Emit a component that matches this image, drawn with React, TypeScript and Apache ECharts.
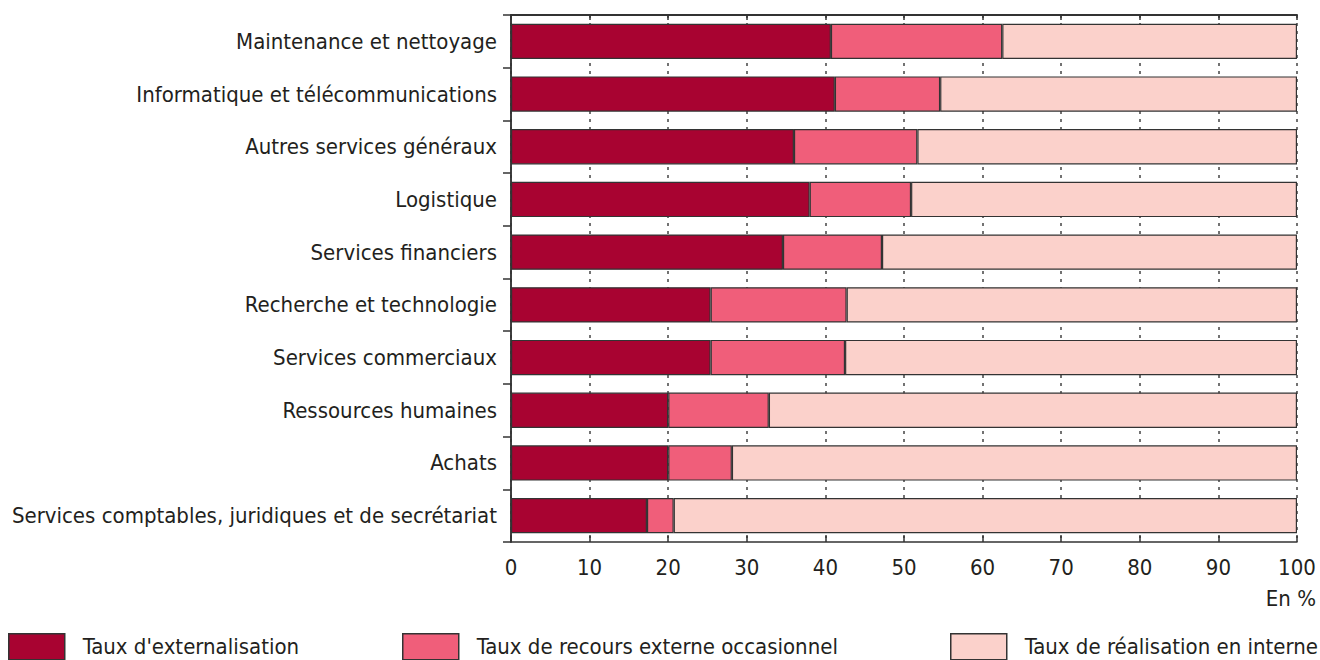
import React, { useEffect, useRef } from "react";
import * as echarts from "echarts";

const categories = [
  "Maintenance et nettoyage",
  "Informatique et télécommunications",
  "Autres services généraux",
  "Logistique",
  "Services financiers",
  "Recherche et technologie",
  "Services commerciaux",
  "Ressources humaines",
  "Achats",
  "Services comptables, juridiques et de secrétariat",
];
const externalisation = [40.7, 41.2, 36.0, 38.0, 34.6, 25.4, 25.4, 20.0, 20.0, 17.3];
const recoursOccasionnel = [21.8, 13.4, 15.7, 12.9, 12.6, 17.3, 17.1, 12.8, 8.1, 3.4];
const realisationInterne = [37.5, 45.4, 48.3, 49.1, 52.8, 57.3, 57.5, 67.2, 71.9, 79.3];
const seriesNames = [
  "Taux d'externalisation",
  "Taux de recours externe occasionnel",
  "Taux de réalisation en interne",
];
const xTicks = [0, 10, 20, 30, 40, 50, 60, 70, 80, 90, 100];

const FONT = "'Liberation Sans Narrow', 'Arial Narrow', 'DejaVu Sans Condensed', sans-serif";
const FS = 22;
const TEXT = "#231f20";
const colors = ["#a80331", "#f05e7a", "#fbd1cb"];

export default function App() {
  const ref = useRef<HTMLDivElement>(null);
  useEffect(() => {
    document.body.style.margin = "0";
    if (!ref.current) return;
    const chart = echarts.init(ref.current, undefined, { renderer: "svg" });
    const seriesData = [externalisation, recoursOccasionnel, realisationInterne];
    const legendLefts = [8, 402, 950];
    chart.setOption({
      animation: false,
      textStyle: { fontFamily: FONT, color: TEXT },
      grid: { left: 511, right: 23, top: 15, bottom: 118, show: false, containLabel: false, outerBoundsMode: "none" },
      xAxis: [
        {
          type: "value",
          min: xTicks[0],
          max: xTicks[xTicks.length - 1],
          interval: 10,
          position: "bottom",
          axisLine: { show: true, lineStyle: { color: "#333", width: 1.5 } },
          axisTick: { show: true, inside: true, length: 6, lineStyle: { color: "#333", width: 1.5 } },
          axisLabel: { fontFamily: FONT, fontSize: FS, color: TEXT, margin: 14 },
          splitLine: { show: true, lineStyle: { color: "#444", width: 1.5, type: [3, 5] } },
        },
        {
          type: "value",
          min: xTicks[0],
          max: xTicks[xTicks.length - 1],
          interval: 10,
          position: "top",
          axisLine: { show: true, lineStyle: { color: "#333", width: 2 } },
          axisTick: { show: true, inside: true, length: 5, lineStyle: { color: "#333", width: 1.5 } },
          axisLabel: { show: false },
          splitLine: { show: false },
        },
      ],
      yAxis: [
        {
          type: "category",
          data: categories,
          inverse: true,
          axisLine: { show: true, lineStyle: { color: "#333", width: 1.5 } },
          axisTick: { show: true, length: 8, lineStyle: { color: "#333", width: 1.5 } },
          axisLabel: { fontFamily: FONT, fontSize: FS, color: TEXT, margin: 14 },
        },
        {
          type: "category",
          data: categories,
          inverse: true,
          position: "right",
          axisLine: { show: true, lineStyle: { color: "#333", width: 1.5 } },
          axisTick: { show: false },
          axisLabel: { show: false },
        },
      ],
      legend: seriesNames.map((name, i) => ({
        data: [name],
        left: legendLefts[i],
        top: 633,
        itemWidth: 56,
        itemHeight: 26,
        padding: 0,
        icon: "rect",
        textStyle: { fontFamily: FONT, fontSize: FS, color: TEXT, padding: [4, 0, 0, 13] },
        itemStyle: { borderColor: "#333", borderWidth: 1.5 },
        selectedMode: false,
      })),
      graphic: [
        {
          type: "text",
          right: 4,
          top: 587,
          style: { text: "En %", fontFamily: FONT, fontSize: FS, fill: TEXT },
        },
      ],
      series: seriesNames.map((name, i) => ({
        name,
        type: "bar",
        stack: "total",
        barWidth: "67%",
        data: seriesData[i],
        itemStyle: { color: colors[i], borderColor: "#333", borderWidth: 1.2 },
        emphasis: { disabled: true },
      })),
    });
    return () => chart.dispose();
  }, []);
  return <div ref={ref} style={{ width: 1320, height: 660 }} />;
}
